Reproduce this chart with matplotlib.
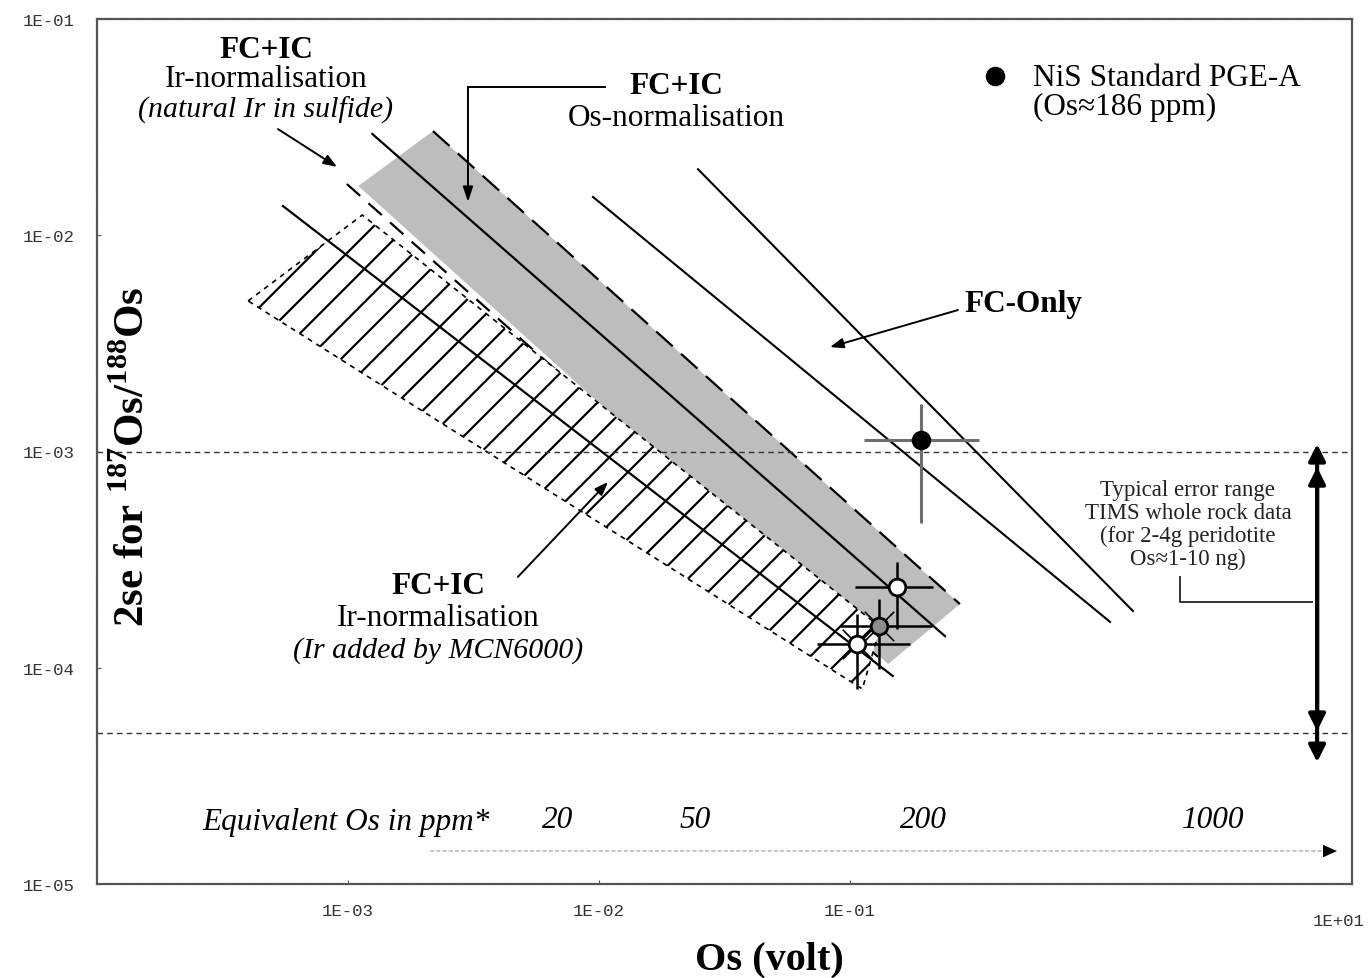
import matplotlib
matplotlib.use('Agg')
import matplotlib.pyplot as plt
from matplotlib.patches import Polygon

plt.rcParams['font.family'] = ['Liberation Serif', 'DejaVu Serif']
plt.rcParams['mathtext.fontset'] = 'custom'
plt.rcParams['mathtext.rm'] = 'Liberation Serif:bold'
plt.rcParams['mathtext.bf'] = 'Liberation Serif:bold'
plt.rcParams['hatch.linewidth'] = 1.6

# ── data (x = Os volt, y = 2se) ─────────────────────────────────────────────
FC_ONLY_A_X = [0.0248, 1.34]
FC_ONLY_A_Y = [0.0202, 1.83e-4]
FC_ONLY_B_X = [0.00946, 1.086]
FC_ONLY_B_Y = [0.01504, 1.63e-4]

OS_NORM_X = [1.25e-3, 0.239]
OS_NORM_Y = [0.0294, 1.40e-4]
OS_BAND_X = [1.10e-3, 2.18e-3, 0.274, 0.142]
OS_BAND_Y = [0.0169, 0.0303, 1.97e-4, 1.04e-4]
OS_BAND_LOWER_X = [9.9e-4, 0.132]
OS_BAND_LOWER_Y = [0.01725, 1.10e-4]

IR_ADD_X = [4.0e-4, 1.14e-3, 0.132, 0.112]
IR_ADD_Y = [4.97e-3, 0.0124, 1.54e-4, 7.98e-5]
IR_NAT_X = [5.51e-4, 0.148]
IR_NAT_Y = [0.01364, 9.16e-5]

# NiS standard PGE-A (filled) and the three MC-ICPMS points
STD_X, STD_Y = 0.192, 1.13e-3
STD_XLO, STD_XHI = 0.1137, 0.3266
STD_YLO, STD_YHI = 4.67e-4, 1.66e-3

PTS_X   = [0.1538, 0.1306, 0.1067]
PTS_Y   = [2.36e-4, 1.56e-4, 1.29e-4]
PTS_XLO = [0.1047, 0.0912, 0.0740]
PTS_XHI = [0.2143, 0.2124, 0.1734]
PTS_YLO = [1.51e-4, 9.87e-5, 7.98e-5]
PTS_YHI = [3.08e-4, 2.08e-4, 1.77e-4]
PTS_FACE = ['white', '#8c8c8c', 'white']

TIMS_RANGE = [1e-3, 5e-5]

PPM_LABELS = ['20', '50', '200', '1000']
PPM_X = [6.81e-3, 0.0241, 0.197, 2.79]

X_TICKS = [1e-3, 1e-2, 1e-1]
X_TICKLABELS = ['1E-03', '1E-02', '1E-01']
Y_TICKS = [1e-5, 1e-4, 1e-3, 1e-2, 1e-1]
Y_TICKLABELS = ['1E-05', '1E-04', '1E-03', '1E-02', '1E-01']

MONO = 'Liberation Mono'
FS = 22.5

fig = plt.figure(figsize=(13.69, 9.79), dpi=100)
ax = fig.add_axes([97 / 1369, 1 - 885 / 979, 1255 / 1369, 865 / 979])
ax.set_xscale('log')
ax.set_yscale('log')
ax.set_xlim(1e-4, 1e1)
ax.set_ylim(1e-5, 1e-1)

# ── shaded Os-normalisation band ───────────────────────────────────────────
ax.add_patch(Polygon(list(zip(OS_BAND_X, OS_BAND_Y)), closed=True,
                     facecolor='#bdbdbd', edgecolor='none', zorder=1))
ax.plot(OS_BAND_X[1:3], OS_BAND_Y[1:3], color='black', lw=1.6,
        linestyle=(0, (10, 5)), zorder=2)
ax.plot(OS_BAND_LOWER_X, OS_BAND_LOWER_Y, color='black', lw=1.6,
        linestyle=(0, (8, 5)), zorder=2)
ax.plot(OS_NORM_X, OS_NORM_Y, color='black', lw=1.6, zorder=3)

# ── hatched Ir-added band ──────────────────────────────────────────────────
ax.add_patch(Polygon(list(zip(IR_ADD_X, IR_ADD_Y)), closed=True,
                     facecolor='white', edgecolor='black', hatch='/',
                     lw=1.2, linestyle=(0, (3, 3)), zorder=2))
ax.plot(IR_NAT_X, IR_NAT_Y, color='black', lw=1.6, zorder=3)

# ── FC-only lines ──────────────────────────────────────────────────────────
ax.plot(FC_ONLY_A_X, FC_ONLY_A_Y, color='black', lw=1.5, zorder=3)
ax.plot(FC_ONLY_B_X, FC_ONLY_B_Y, color='black', lw=1.5, zorder=3)

# ── horizontal reference lines ─────────────────────────────────────────────
for yv in TIMS_RANGE:
    ax.axhline(yv, color='#333333', lw=1.0, linestyle=(0, (4, 3)), zorder=2)

# ── data points ────────────────────────────────────────────────────────────
ax.errorbar(STD_X, STD_Y,
            xerr=[[STD_X - STD_XLO], [STD_XHI - STD_X]],
            yerr=[[STD_Y - STD_YLO], [STD_YHI - STD_Y]],
            fmt='o', color='black', ms=13, ecolor='#6e6e6e', elinewidth=2.2,
            capsize=0, zorder=6)
ax.scatter(PTS_X[1:], PTS_Y[1:], marker='x', s=450, color='black',
           linewidths=1.2, zorder=5)
for i in range(len(PTS_X)):
    ax.errorbar(PTS_X[i], PTS_Y[i],
                xerr=[[PTS_X[i] - PTS_XLO[i]], [PTS_XHI[i] - PTS_X[i]]],
                yerr=[[PTS_Y[i] - PTS_YLO[i]], [PTS_YHI[i] - PTS_Y[i]]],
                fmt='o', mfc=PTS_FACE[i], mec='black', mew=2.0, ms=12,
                ecolor='black', elinewidth=1.8, capsize=0, zorder=6)

# ── TIMS typical error range (double arrows) ───────────────────────────────
tx = 7.26
ax.annotate('', xy=(tx, 1.083e-3), xytext=(tx, 3.66e-5),
            arrowprops=dict(arrowstyle='<|-|>,head_length=1.0,head_width=0.5',
                            color='black', lw=3, shrinkA=0, shrinkB=0), zorder=7)
ax.annotate('', xy=(tx, 8.47e-4), xytext=(tx, 5.10e-5),
            arrowprops=dict(arrowstyle='<|-|>,head_length=1.0,head_width=0.5',
                            color='black', lw=3, shrinkA=0, shrinkB=0), zorder=7)
ax.plot([2.065, 2.065, 6.93], [2.63e-4, 2.01e-4, 2.01e-4], color='#333333', lw=1.4)
ax.text(2.22, 7.46e-4,
        'Typical error range\nTIMS whole rock data\n(for 2-4g peridotite\nOs\u22481-10 ng)',
        ha='center', va='top', fontsize=16.5, linespacing=1.12, color='#222222')

# ── labels with arrows ─────────────────────────────────────────────────────
ax.text(4.71e-4, 0.0726, 'FC+IC', ha='center', va='center', fontsize=FS,
        fontweight='bold')
ax.text(4.71e-4, 0.0528, 'Ir-normalisation', ha='center', va='center', fontsize=FS)
ax.text(4.71e-4, 0.0384, '(natural Ir in sulfide)', ha='center', va='center',
        fontsize=FS - 1, style='italic')
ax.annotate('', xy=(9.04e-4, 0.0207), xytext=(5.26e-4, 0.03097),
            arrowprops=dict(arrowstyle='-|>,head_length=0.8,head_width=0.3',
                            color='black', lw=1.4, shrinkA=0, shrinkB=0))

ax.text(0.0203, 0.0490, 'FC+IC', ha='center', va='center', fontsize=FS,
        fontweight='bold')
ax.text(0.0203, 0.0352, 'Os-normalisation', ha='center', va='center', fontsize=FS)
ax.plot([0.01057, 3.006e-3], [0.04846, 0.04846], color='black', lw=1.4)
ax.annotate('', xy=(3.006e-3, 0.01426), xytext=(3.006e-3, 0.04846),
            arrowprops=dict(arrowstyle='-|>,head_length=0.9,head_width=0.3',
                            color='black', lw=1.4, shrinkA=0, shrinkB=0))

ax.text(2.29e-3, 2.39e-4, 'FC+IC', ha='center', va='center', fontsize=FS,
        fontweight='bold')
ax.text(2.29e-3, 1.70e-4, 'Ir-normalisation', ha='center', va='center', fontsize=FS)
ax.text(2.29e-3, 1.22e-4, '(Ir added by MCN6000)', ha='center', va='center',
        fontsize=FS - 1, style='italic')
ax.annotate('', xy=(0.01086, 7.23e-4), xytext=(4.75e-3, 2.63e-4),
            arrowprops=dict(arrowstyle='-|>,head_length=0.8,head_width=0.3',
                            color='black', lw=1.4, shrinkA=0, shrinkB=0))

ax.text(0.285, 4.85e-3, 'FC-Only', ha='left', va='center', fontsize=FS,
        fontweight='bold')
ax.annotate('', xy=(0.0832, 3.04e-3), xytext=(0.2691, 4.51e-3),
            arrowprops=dict(arrowstyle='-|>,head_length=0.8,head_width=0.3',
                            color='black', lw=1.4, shrinkA=0, shrinkB=0))

# legend-like annotation
ax.scatter([0.378], [0.0545], s=170, color='black', zorder=6)
ax.text(0.536, 0.0534, 'NiS Standard PGE-A', ha='left', va='center', fontsize=FS)
ax.text(0.536, 0.0392, '(Os\u2248186 ppm)', ha='left', va='center', fontsize=FS)

# equivalent ppm scale
ax.text(3.68e-3, 1.95e-5, 'Equivalent Os in ppm*', ha='right', va='center',
        fontsize=FS, style='italic')
for lab, xv in zip(PPM_LABELS, PPM_X):
    ax.text(xv, 1.98e-5, lab, ha='center', va='center', fontsize=FS,
            style='italic')
ax.plot([2.12e-3, 8.0], [1.42e-5, 1.42e-5], color='#c8c8c8', lw=1.5,
        linestyle=(0, (2, 1)))
ax.annotate('', xy=(8.71, 1.42e-5), xytext=(7.0, 1.42e-5),
            arrowprops=dict(arrowstyle='-|>,head_length=1.0,head_width=0.45',
                            color='black', lw=0.01, shrinkA=0, shrinkB=0))

# ── axes cosmetics ─────────────────────────────────────────────────────────
ax.set_xticks(X_TICKS)
ax.set_xticklabels(X_TICKLABELS, fontfamily=MONO, fontsize=12.5, color='#333333')
ax.set_yticks(Y_TICKS)
ax.set_yticklabels(Y_TICKLABELS, fontfamily=MONO, fontsize=12.5, color='#333333')
ax.minorticks_off()
ax.tick_params(axis='both', which='major', length=3, direction='in',
               color='#555555', pad=14)
ax.tick_params(axis='y', pad=16)
fig.text(0.997, 1 - 922 / 979, '1E+01', ha='right', va='center',
         fontfamily=MONO, fontsize=12.5, color='#333333')
for sp in ax.spines.values():
    sp.set_linestyle((0, (1.5, 0.8)))
    sp.set_color('#555555')
    sp.set_linewidth(1.6)

ax.set_xlabel('Os (volt)', fontsize=29, fontweight='bold')
ax.xaxis.set_label_coords((769 - 97) / 1255, -0.0867)
ax.xaxis.label.set_va('center')
ax.text(0.0287, 0.495, r'2se for $^{187}$Os/$^{188}$Os', transform=ax.transAxes,
        rotation=90, ha='center', va='center', fontsize=31, fontweight='bold')

fig.savefig('out.png', dpi=100, facecolor='white')
